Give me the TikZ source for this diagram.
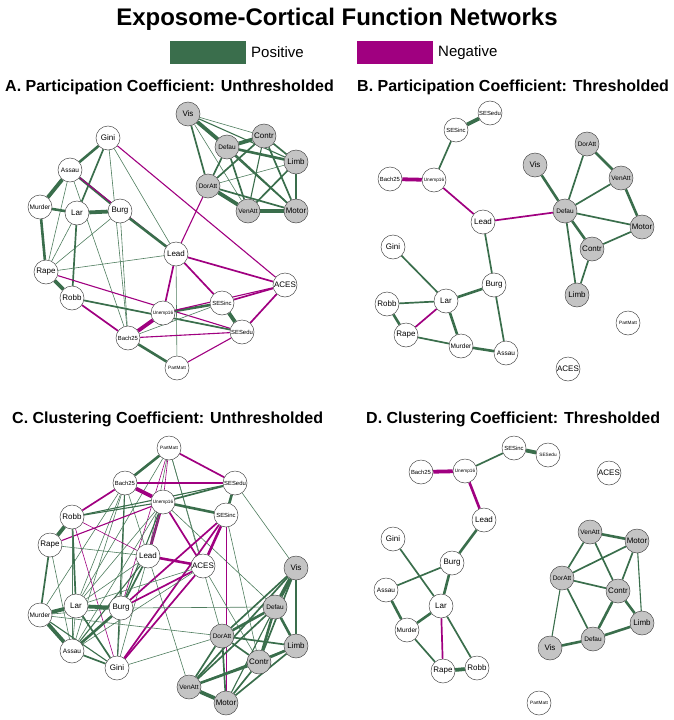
\documentclass[tikz,border=0pt]{standalone}
\usepackage{fontspec}
\setmainfont{Liberation Sans}
\usetikzlibrary{backgrounds}
\definecolor{posc}{RGB}{58,110,76}
\definecolor{negc}{RGB}{160,0,128}
\definecolor{corgray}{RGB}{196,196,196}
\tikzset{
 vtx/.style={circle,draw=black!70,line width=0.5pt,minimum size=24pt,inner sep=0pt,fill=white},
 soc/.style={vtx},
 cor/.style={vtx,fill=corgray},
 tl/.style={font=\fontsize{8}{9}\selectfont},
 tm/.style={font=\fontsize{6.5}{7}\selectfont},
 tn/.style={font=\fontsize{5.9}{6.5}\selectfont},
 ts/.style={font=\fontsize{4.7}{5}\selectfont},
 pa/.style={draw=posc!90,line width=0.6pt},
 pb/.style={draw=posc,line width=1.1pt},
 pc/.style={draw=posc,line width=1.7pt},
 pd/.style={draw=posc,line width=2.6pt},
 pe/.style={draw=posc,line width=3.8pt},
 na/.style={draw=negc,line width=0.6pt},
 nb/.style={draw=negc,line width=1.1pt},
 nc/.style={draw=negc,line width=1.7pt},
 nd/.style={draw=negc,line width=2.6pt},
 ne/.style={draw=negc,line width=3.8pt},
 ptitle/.style={anchor=west,font=\fontsize{16}{18}\bfseries\selectfont,inner sep=0pt},
}
\begin{document}
\begin{tikzpicture}[x=1pt,y=-1pt]
\useasboundingbox (0,0) rectangle (674,720);
% title and legend
\node[font=\fontsize{24}{26}\bfseries\selectfont] (title) at (337,19) {Exposome-Cortical Function Networks};
\node[draw=none,fill=posc,minimum width=76pt,minimum height=23pt,inner sep=0pt] (legp) at (208,52.5) {};
\node[anchor=west,font=\fontsize{15}{17}\selectfont,inner sep=0pt] (legpt) at (251,52.5) {Positive};
\node[draw=none,fill=negc,minimum width=76pt,minimum height=23pt,inner sep=0pt] (legn) at (395,52.5) {};
\node[anchor=west,font=\fontsize{15}{17}\selectfont,inner sep=0pt] (legnt) at (438,52.5) {Negative};
\node[ptitle] (tA) at (5,87) {A. Participation Coefficient: Unthresholded};
\node[ptitle] (tB) at (357,87) {B. Participation Coefficient: Thresholded};
\node[ptitle] (tC) at (12,419) {C. Clustering Coefficient: Unthresholded};
\node[ptitle] (tD) at (366,419) {D. Clustering Coefficient: Thresholded};

% ---------------- Panel A nodes
\node[cor,tl] (aVis) at (188,114) {Vis};
\node[cor,tl] (aContr) at (264,136) {Contr};
\node[cor,tm] (aDefau) at (227,147) {Defau};
\node[cor,tl] (aLimb) at (296,162) {Limb};
\node[cor,tm] (aDorAtt) at (208,186) {DorAtt};
\node[cor,tm] (aVenAtt) at (248,211) {VenAtt};
\node[cor,tl] (aMotor) at (296,211) {Motor};
\node[soc,tl] (aGini) at (108,138) {Gini};
\node[soc,tm] (aAssau) at (70,170) {Assau};
\node[soc,tm] (aMurder) at (40,207) {Murder};
\node[soc,tl] (aLar) at (77,213) {Lar};
\node[soc,tl] (aBurg) at (120,211) {Burg};
\node[soc,tl] (aLead) at (176,254) {Lead};
\node[soc,tl] (aRape) at (46,272) {Rape};
\node[soc,tl] (aRobb) at (72,298) {Robb};
\node[soc,tl] (aACES) at (285,285) {ACES};
\node[soc,tn] (aSESinc) at (222,303) {SESinc};
\node[soc,ts] (aUnemp) at (163,313) {Unemp16};
\node[soc,tn] (aSESedu) at (242,332) {SESedu};
\node[soc,tn] (aBach) at (128,338) {Bach25};
\node[soc,ts] (aPartMatt) at (177,368) {PartMatt};

% ---------------- Panel B nodes
\node[soc,tn] (bSESedu) at (490,113) {SESedu};
\node[soc,tn] (bSESinc) at (456,130) {SESinc};
\node[soc,tn] (bBach) at (390,179) {Bach25};
\node[soc,ts] (bUnemp) at (434,180) {Unemp16};
\node[soc,tl] (bLead) at (483,222) {Lead};
\node[cor,tl] (bVis) at (535,165) {Vis};
\node[cor,tm] (bDorAtt) at (587,144) {DorAtt};
\node[cor,tm] (bVenAtt) at (621,178) {VenAtt};
\node[cor,tm] (bDefau) at (565,211) {Defau};
\node[cor,tl] (bMotor) at (642,227) {Motor};
\node[cor,tl] (bContr) at (592,249) {Contr};
\node[cor,tl] (bLimb) at (577,295) {Limb};
\node[soc,tl] (bGini) at (393,247) {Gini};
\node[soc,tl] (bBurg) at (494,285) {Burg};
\node[soc,tl] (bLar) at (446,301) {Lar};
\node[soc,tl] (bRobb) at (387,304) {Robb};
\node[soc,tl] (bRape) at (406,335) {Rape};
\node[soc,tm] (bMurder) at (461,346) {Murder};
\node[soc,tm] (bAssau) at (506,353) {Assau};
\node[soc,ts] (bPartMatt) at (628,323) {PartMatt};
\node[soc,tl] (bACES) at (568,369) {ACES};

% ---------------- Panel C nodes
\node[soc,ts] (cPartMatt) at (169,448) {PartMatt};
\node[soc,tn] (cBach) at (125,483) {Bach25};
\node[soc,tn] (cSESedu) at (235,483) {SESedu};
\node[soc,ts] (cUnemp) at (163,502) {Unemp16};
\node[soc,tl] (cRobb) at (72,517) {Robb};
\node[soc,tn] (cSESinc) at (226,515) {SESinc};
\node[soc,tl] (cRape) at (50,545) {Rape};
\node[soc,tl] (cLead) at (148,556) {Lead};
\node[soc,tl] (cACES) at (203,566) {ACES};
\node[cor,tl] (cVis) at (296,568) {Vis};
\node[soc,tl] (cLar) at (76,606) {Lar};
\node[soc,tm] (cMurder) at (40,615) {Murder};
\node[soc,tl] (cBurg) at (121,608) {Burg};
\node[cor,tm] (cDefau) at (275,607) {Defau};
\node[cor,tm] (cDorAtt) at (222,636) {DorAtt};
\node[cor,tl] (cLimb) at (296,646) {Limb};
\node[soc,tm] (cAssau) at (72,651) {Assau};
\node[soc,tl] (cGini) at (117,668) {Gini};
\node[cor,tl] (cContr) at (259,662) {Contr};
\node[cor,tm] (cVenAtt) at (189,687) {VenAtt};
\node[cor,tl] (cMotor) at (226,703) {Motor};

% ---------------- Panel D nodes
\node[soc,tn] (dSESinc) at (514,448) {SESinc};
\node[soc,ts] (dSESedu) at (548,455) {SESedu};
\node[soc,tn] (dBach) at (421,472) {Bach25};
\node[soc,ts] (dUnemp) at (465,471) {Unemp16};
\node[soc,tl] (dACES) at (609,473) {ACES};
\node[soc,tl] (dLead) at (484,520) {Lead};
\node[soc,tl] (dGini) at (393,539) {Gini};
\node[cor,tm] (dVenAtt) at (590,532) {VenAtt};
\node[cor,tl] (dMotor) at (637,541) {Motor};
\node[soc,tl] (dBurg) at (452,563) {Burg};
\node[cor,tm] (dDorAtt) at (562,578) {DorAtt};
\node[cor,tl] (dContr) at (618,591) {Contr};
\node[soc,tm] (dAssau) at (386,590) {Assau};
\node[soc,tl] (dLar) at (441,606) {Lar};
\node[soc,tm] (dMurder) at (407,630) {Murder};
\node[cor,tl] (dLimb) at (642,623) {Limb};
\node[cor,tm] (dDefau) at (593,639) {Defau};
\node[cor,tl] (dVis) at (550,648) {Vis};
\node[soc,tl] (dRape) at (443,671) {Rape};
\node[soc,tl] (dRobb) at (477,668) {Robb};
\node[soc,ts] (dPartMatt) at (539,703) {PartMatt};

\begin{pgfonlayer}{background}
% ---------------- Panel A edges
\foreach \s/\a/\b in {
 pe/aVis/aDefau, pa/aVis/aContr, pb/aVis/aLimb, pc/aVis/aDorAtt, pa/aVis/aVenAtt, pb/aVis/aMotor,
 pe/aDefau/aContr, pd/aDefau/aLimb, pc/aDefau/aDorAtt, pc/aDefau/aVenAtt, pc/aDefau/aMotor,
 pc/aContr/aLimb, pc/aContr/aDorAtt, pb/aContr/aVenAtt, pc/aContr/aMotor,
 pa/aLimb/aDorAtt, pc/aLimb/aVenAtt, pb/aLimb/aMotor,
 pe/aDorAtt/aVenAtt, pc/aDorAtt/aMotor, pe/aVenAtt/aMotor,
 nb/aDorAtt/aLead, nb/aGini/aACES,
 pd/aGini/aAssau, pc/aGini/aLar, pa/aGini/aBach, pa/aGini/aLead,
 pe/aAssau/aMurder, pd/aAssau/aBurg, pa/aAssau/aRape, pa/aAssau/aBach, nb/aAssau/aLead,
 pd/aMurder/aLar, pd/aMurder/aRape,
 pe/aLar/aBurg, pc/aLar/aRobb, pa/aLar/aRape,
 pd/aBurg/aLead, pa/aBurg/aRape, pa/aBurg/aBach,
 pa/aRape/aLead, pe/aRape/aRobb, nb/aRape/aSESedu,
 pc/aRobb/aSESedu, nc/aRobb/aBach,
 nc/aLead/aACES, nc/aLead/aUnemp, nc/aLead/aSESinc, pa/aLead/aPartMatt,
 ne/aUnemp/aBach, pd/aUnemp/aSESinc, nb/aUnemp/aACES, nc/aSESinc/aACES,
 pa/aBach/aSESinc, pe/aSESinc/aSESedu, nc/aSESedu/aACES, nb/aSESedu/aPartMatt,
 nb/aBach/aSESedu, pd/aBach/aPartMatt}
 \draw[\s] (\a) -- (\b);
% ---------------- Panel B edges
\foreach \s/\a/\b in {
 pe/bSESinc/bSESedu, pc/bSESinc/bUnemp, ne/bBach/bUnemp, nc/bUnemp/bLead,
 nc/bLead/bDefau, pc/bLead/bBurg,
 pd/bVis/bDefau, pc/bDorAtt/bDefau, pd/bDorAtt/bVenAtt, pc/bVenAtt/bDefau,
 pd/bVenAtt/bMotor, pc/bDefau/bMotor, pd/bDefau/bContr, pc/bDefau/bLimb,
 pc/bContr/bMotor, pc/bContr/bLimb,
 pc/bGini/bLar, pd/bLar/bBurg, pc/bLar/bRobb, nc/bLar/bRape, pd/bLar/bMurder,
 pd/bRobb/bRape, pc/bRape/bMurder, pd/bMurder/bAssau, pc/bBurg/bAssau}
 \draw[\s] (\a) -- (\b);
% ---------------- Panel C edges
\foreach \s/\a/\b in {
 pd/cPartMatt/cBach, nc/cPartMatt/cSESedu, na/cPartMatt/cUnemp, pa/cPartMatt/cLead,
 na/cPartMatt/cBurg, pa/cPartMatt/cACES, pa/cPartMatt/cDorAtt, pa/cPartMatt/cLar,
 nb/cBach/cSESedu, ne/cBach/cUnemp, nc/cBach/cRobb, pa/cBach/cLar, pa/cBach/cBurg,
 pb/cBach/cGini, pa/cBach/cMurder, pa/cBach/cAssau, pa/cBach/cLead,
 pc/cUnemp/cSESedu, pd/cUnemp/cSESinc, pb/cUnemp/cRobb, nb/cUnemp/cRape, nd/cUnemp/cLead,
 nc/cUnemp/cACES, pa/cUnemp/cDefau, pa/cUnemp/cLar, pb/cUnemp/cBurg, pa/cUnemp/cAssau,
 pa/cUnemp/cGini,
 pb/cSESedu/cRobb, pd/cSESedu/cSESinc, pa/cSESedu/cVis,
 nd/cSESinc/cACES, nc/cSESinc/cGini, nc/cSESinc/cBurg, na/cSESinc/cMotor, pa/cSESinc/cContr,
 pe/cRobb/cRape, na/cRobb/cLead, pc/cRobb/cLar, na/cRobb/cGini, pa/cRobb/cAssau,
 pa/cRape/cLead, pc/cRape/cMurder, pa/cRape/cAssau,
 nd/cLead/cACES, pc/cLead/cBurg, pa/cLead/cLar, pb/cLead/cAssau, pa/cLead/cVenAtt,
 nc/cACES/cBurg, nc/cACES/cGini, pa/cACES/cLar, pa/cACES/cAssau, pa/cACES/cContr,
 pe/cLar/cMurder, pe/cLar/cBurg, pc/cLar/cGini, pa/cLar/cAssau,
 pe/cMurder/cAssau, pb/cMurder/cGini, pa/cMurder/cBurg, pa/cMurder/cDorAtt,
 pd/cBurg/cAssau, pa/cBurg/cGini, pa/cBurg/cDefau,
 pc/cAssau/cGini, pa/cGini/cDorAtt,
 pe/cVis/cDefau, pc/cVis/cDorAtt, pc/cVis/cLimb, pc/cVis/cContr, pc/cVis/cVenAtt,
 pd/cDefau/cDorAtt, pd/cDefau/cContr, pd/cDefau/cLimb, pc/cDefau/cVenAtt, pb/cDefau/cMotor,
 pc/cDorAtt/cLimb, pc/cDorAtt/cContr, pc/cDorAtt/cVenAtt, pc/cDorAtt/cMotor,
 pd/cContr/cLimb, pd/cContr/cVenAtt, pc/cContr/cMotor,
 pc/cLimb/cMotor, pe/cVenAtt/cMotor, pb/cLimb/cVenAtt}
 \draw[\s] (\a) -- (\b);
% ---------------- Panel D edges
\foreach \s/\a/\b in {
 ne/dBach/dUnemp, pc/dUnemp/dSESinc, pe/dSESinc/dSESedu, nd/dUnemp/dLead,
 pd/dLead/dBurg, pc/dGini/dLar, pc/dBurg/dAssau, pd/dBurg/dLar,
 pd/dAssau/dMurder, pd/dLar/dMurder, nc/dLar/dRape, pc/dLar/dRobb,
 pc/dMurder/dRape, pe/dRape/dRobb,
 pd/dVenAtt/dMotor, pc/dVenAtt/dDorAtt, pc/dVenAtt/dContr, pc/dMotor/dDorAtt,
 pc/dMotor/dContr, pb/dMotor/dLimb, pc/dDorAtt/dContr, pb/dDorAtt/dVis,
 pc/dDorAtt/dDefau, pd/dContr/dDefau, pd/dContr/dLimb, pd/dDefau/dLimb, pd/dDefau/dVis}
 \draw[\s] (\a) -- (\b);
\end{pgfonlayer}
\end{tikzpicture}
\end{document}
